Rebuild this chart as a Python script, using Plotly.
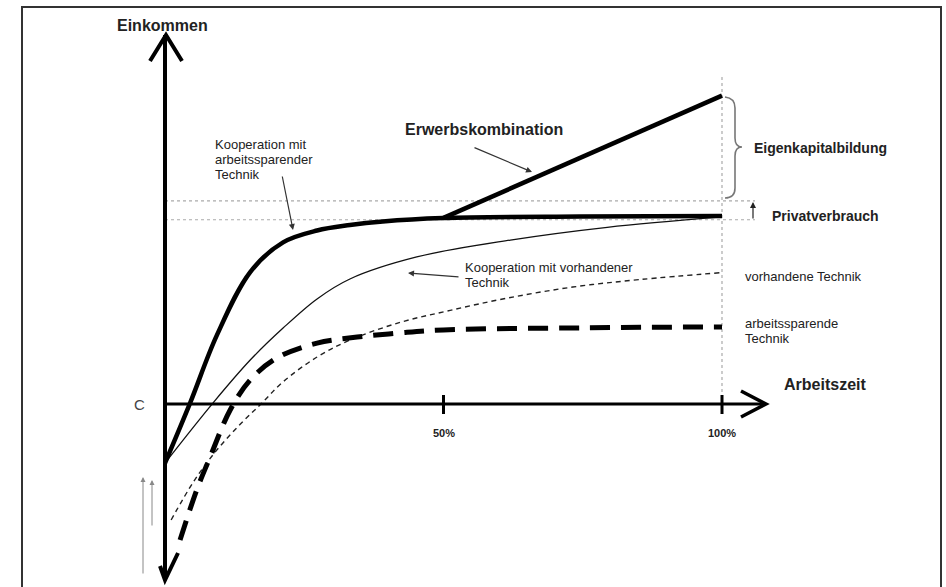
import plotly.graph_objects as go

# ---------------- data (x = Arbeitszeit in %, y = Einkommen, Privatverbrauch = 100) -------------
x_koop_as = [0, 4.5, 9.3, 15.3, 21.2, 27.3, 33.2, 39.1, 49.9, 74.5, 100]
y_koop_as = [-31.4, 0.5, 36.5, 70.2, 86.0, 92.3, 95.2, 97.1, 98.9, 99.7, 100]

x_koop_vh = [0, 8.6, 15.3, 21.2, 27.3, 33.2, 45.2, 62.0, 79.4, 100]
y_koop_vh = [-31.4, 0.5, 23.4, 40.4, 55.9, 66.5, 78.2, 87.2, 94.0, 99.5]

x_vorh = [1.1, 5.2, 9.3, 13.5, 17.4, 21.2, 27.3, 33.2, 42.2, 51.2, 61.4, 73.2, 85.3, 100]
y_vorh = [-61.7, -41.0, -24.5, -10.8, 0.5, 11.8, 25.0, 34.0, 43.4, 49.8, 56.3, 62.2, 66.2, 69.9]

x_arbsp = [2.7, 5.7, 8.1, 11.7, 15.3, 20.1, 27.3, 34.5, 42.2, 50, 75, 100]
y_arbsp = [-72.3, -45.7, -28.2, -3.2, 12.8, 24.5, 32.4, 35.6, 37.8, 39.4, 40.5, 41.0]

x_erwerb = [50, 100]
y_erwerb = [99, 164]

ref_levels = [108, 98]          # dotted guide lines around Privatverbrauch
tick_vals = [50, 100]
tick_text = ["50%", "100%"]

# ---------------- geometry -------------
W, H = 946, 587
X0_PX, X100_PX = 165, 722
Y0_PX, Y100_PX = 404, 216
SX = (X100_PX - X0_PX) / 100.0
SY = (Y0_PX - Y100_PX) / 100.0


def px2x(px):
    return (px - X0_PX) / SX


def py2y(py):
    return (Y0_PX - py) / SY


FONT = "Liberation Sans, Arial, sans-serif"

fig = go.Figure()
SM = 1.0
fig.add_trace(go.Scatter(x=x_vorh, y=y_vorh, mode="lines", line_shape="spline",
                         line=dict(color="#222", width=1.4, dash="5px,4px", smoothing=SM), hoverinfo="skip"))
fig.add_trace(go.Scatter(x=x_arbsp, y=y_arbsp, mode="lines", line_shape="spline",
                         line=dict(color="#000", width=5, dash="20px,11px", smoothing=SM), hoverinfo="skip"))
fig.add_trace(go.Scatter(x=x_koop_vh, y=y_koop_vh, mode="lines", line_shape="spline",
                         line=dict(color="#111", width=1.3, smoothing=SM), hoverinfo="skip"))
fig.add_trace(go.Scatter(x=x_koop_as, y=y_koop_as, mode="lines", line_shape="spline",
                         line=dict(color="#000", width=4.5, smoothing=SM), hoverinfo="skip"))
fig.add_trace(go.Scatter(x=x_erwerb, y=y_erwerb, mode="lines",
                         line=dict(color="#000", width=4.5), hoverinfo="skip"))

shapes = []
# frame
shapes.append(dict(type="path", xref="paper", yref="paper",
                   path=f"M {22/W} 0 L {22/W} {1-7/H} L {941/W} {1-7/H} L {941/W} 0",
                   line=dict(color="#333", width=2)))
# dotted guide lines
for lv in ref_levels:
    shapes.append(dict(type="line", xref="x", yref="y", x0=0, x1=px2x(755), y0=lv, y1=lv,
                       line=dict(color="#aaa", width=1.2, dash="dot"), layer="below"))
# 100% vertical dotted line
shapes.append(dict(type="line", xref="x", yref="y", x0=100, x1=100, y0=0, y1=py2y(75),
                   line=dict(color="#aaa", width=1.2, dash="dot"), layer="below"))
# axes
shapes.append(dict(type="line", xref="x", yref="y", x0=0, x1=0, y0=py2y(578), y1=py2y(35),
                   line=dict(color="#000", width=4)))
shapes.append(dict(type="line", xref="x", yref="y", x0=0, x1=px2x(765), y0=0, y1=0,
                   line=dict(color="#000", width=3)))


def chev(pts, width=4):
    d = "M " + " L ".join(f"{px2x(a)} {py2y(b)}" for a, b in pts)
    shapes.append(dict(type="path", xref="x", yref="y", path=d,
                       line=dict(color="#000", width=width)))


chev([(150, 61), (166, 35), (182, 61)])           # y arrow top
chev([(741, 391), (766, 404), (741, 417)], 3.5)   # x arrow
chev([(178, 553), (165, 580), (160, 566)], 4)     # y arrow bottom
# ticks
for tv in tick_vals:
    shapes.append(dict(type="line", xref="x", yref="y", x0=tv, x1=tv, y0=py2y(395), y1=py2y(414),
                       line=dict(color="#000", width=3)))
# brace
bx = lambda p: px2x(p)
by = lambda p: py2y(p)
brace = (f"M {bx(725)} {by(97)} Q {bx(735)} {by(98)} {bx(735)} {by(108)} "
         f"L {bx(735)} {by(138)} Q {bx(735)} {by(147)} {bx(742)} {by(147)} "
         f"Q {bx(735)} {by(147)} {bx(735)} {by(156)} "
         f"L {bx(735)} {by(188)} Q {bx(735)} {by(198)} {bx(725)} {by(198)}")
shapes.append(dict(type="path", xref="x", yref="y", path=brace, line=dict(color="#777", width=1.6)))

ann = []


def label(text, px, py, size, bold=False, anchor="left", color="#222"):
    if bold:
        text = f"<b>{text}</b>"
    ann.append(dict(x=px2x(px), y=py2y(py), xref="x", yref="y", text=text, showarrow=False,
                    xanchor=anchor, yanchor="middle", font=dict(size=size, color=color, family=FONT)))


def arrow(tip_px, tip_py, tail_px, tail_py, color="#333", width=1.2, head=2, size=1.0):
    ann.append(dict(x=px2x(tip_px), y=py2y(tip_py), xref="x", yref="y", text="",
                    showarrow=True, ax=tail_px - tip_px, ay=tail_py - tip_py,
                    arrowhead=head, arrowsize=size, arrowwidth=width, arrowcolor=color, standoff=0))


label("Einkommen", 162, 25, 16, bold=True, anchor="center")
label("Arbeitszeit", 782, 384, 16, bold=True)
label("Erwerbskombination", 403, 129, 16, bold=True)
label("Eigenkapitalbildung", 752, 148, 14, bold=True)
label("Privatverbrauch", 770, 216, 14, bold=True)
for tv, tt in zip(tick_vals, tick_text):
    label(tt, X0_PX + tv * SX, 433, 11, bold=True, anchor="center")
label("C", 139, 404, 15, color="#444", anchor="center")

for i, t in enumerate(["Kooperation mit", "arbeitssparender", "Technik"]):
    label(t, 213, 144 + 15 * i, 13)
for i, t in enumerate(["Kooperation mit vorhandener", "Technik"]):
    label(t, 463, 267 + 15 * i, 13)
label("vorhandene Technik", 743, 276, 13)
for i, t in enumerate(["arbeitssparende", "Technik"]):
    label(t, 743, 323 + 15 * i, 13)

arrow(293, 230, 282, 175)
arrow(532, 172, 473, 147)
arrow(408, 273, 460, 277)
arrow(753, 202, 753, 220, color="#222", width=1.2)
arrow(143, 477, 143, 575, color="#888", width=1.0)
arrow(152, 480, 152, 527, color="#888", width=1.0)

fig.update_layout(
    width=W, height=H, margin=dict(l=0, r=0, t=0, b=0),
    paper_bgcolor="white", plot_bgcolor="white", showlegend=False,
    xaxis=dict(range=[px2x(0), px2x(W)], visible=False, fixedrange=True),
    yaxis=dict(range=[py2y(H), py2y(0)], visible=False, fixedrange=True),
    shapes=shapes, annotations=ann,
)

fig.write_html("out.html", config={"displayModeBar": False},
               post_script="document.body.style.margin='0';")
